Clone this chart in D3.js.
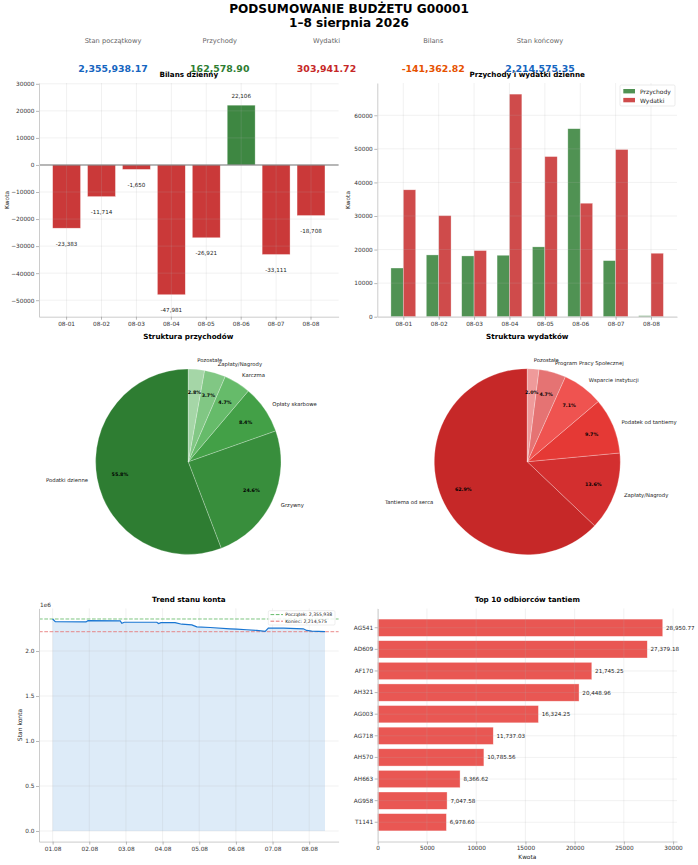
<!DOCTYPE html>
<html>
<head>
<meta charset="utf-8">
<script src="https://cdn.jsdelivr.net/npm/d3@7"></script>
<style>
  body { margin: 0; background: #fff; }
  svg { display: block; font-family: "DejaVu Sans", sans-serif; }
</style>
</head>
<body>
<div id="chart"></div>
<script>
var title_lines    = ["PODSUMOWANIE BUDŻETU G00001", "1–8 sierpnia 2026"];

var kpi_labels     = ["Stan początkowy", "Przychody", "Wydatki", "Bilans", "Stan końcowy"];
var kpi_values     = [2355938.17, 162578.90, 303941.72, -141362.82, 2214575.35];

var days           = ["08-01", "08-02", "08-03", "08-04", "08-05", "08-06", "08-07", "08-08"];
var bilans         = [-23383, -11714, -1650, -47981, -26921, 22106, -33111, -18708];
var przychody      = [14500, 18400, 18100, 18300, 20800, 56000, 16700, 300];
var wydatki        = [37800, 30100, 19700, 66300, 47700, 33800, 49800, 18900];
var bilans_ticks   = [-50000, -40000, -30000, -20000, -10000, 0, 10000, 20000, 30000];
var daily_ticks    = [0, 10000, 20000, 30000, 40000, 50000, 60000];

var income_cats    = ["Podatki dzienne", "Grzywny", "Opłaty skarbowe", "Karczma", "Zapłaty/Nagrody", "Pozostałe"];
var income_vals    = [90719, 39994, 13657, 7641, 6015, 4552];
var expense_cats   = ["Tantiema od serca", "Zapłaty/Nagrody", "Podatek od tantiemy", "Wsparcie instytucji", "Program Pracy Społecznej", "Pozostałe"];
var expense_vals   = [191179, 41336, 29482, 21580, 14285, 6079];

var trend_times    = ["2026-08-01 00:00", "2026-08-01 01:45", "2026-08-01 21:50", "2026-08-01 23:10",
                      "2026-08-02 20:15", "2026-08-02 21:20", "2026-08-02 22:55", "2026-08-03 20:15",
                      "2026-08-03 21:20", "2026-08-03 22:55", "2026-08-04 08:10", "2026-08-04 12:35",
                      "2026-08-04 19:10", "2026-08-04 22:25", "2026-08-05 07:10", "2026-08-05 20:15",
                      "2026-08-06 00:30", "2026-08-06 07:10", "2026-08-06 13:40", "2026-08-06 19:10",
                      "2026-08-06 21:15", "2026-08-07 07:10", "2026-08-07 20:10", "2026-08-07 22:20",
                      "2026-08-08 01:40", "2026-08-08 10:20"];
var trend_values   = [2355938, 2327000, 2323400, 2337900, 2334200, 2308900, 2319700, 2319700,
                      2305200, 2316000, 2316000, 2298000, 2290700, 2269000, 2261700, 2247200,
                      2243600, 2236300, 2229000, 2218200, 2254500, 2254500, 2247200, 2229000,
                      2221800, 2214575];
var trend_ticks    = [0, 500000, 1000000, 1500000, 2000000];
var trend_days     = ["2026-08-01", "2026-08-02", "2026-08-03", "2026-08-04", "2026-08-05", "2026-08-06", "2026-08-07", "2026-08-08"];

var top_ids        = ["AG541", "AD609", "AF170", "AH321", "AG003", "AG718", "AH570", "AH663", "AG958", "T1141"];
var top_vals       = [28950.77, 27379.18, 21745.25, 20448.96, 16324.25, 11737.03, 10785.56, 8366.62, 7047.58, 6978.60];
var top_ticks      = [0, 5000, 10000, 15000, 20000, 25000, 30000];

var kpi_colors     = ["#1565c0", "#2e7d32", "#c62828", "#e65100", "#1565c0"];
var income_colors  = ["#2e7d32", "#388e3c", "#43a047", "#66bb6a", "#81c784", "#a5d6a7"];
var expense_colors = ["#c62828", "#d32f2f", "#e53935", "#ef5350", "#e57373", "#ef9a9a"];

var fmt_int   = function (v) { return d3.format(",.0f")(v).replace("−", "-"); };
var fmt_money = function (v) { return d3.format(",.2f")(v).replace("−", "-"); };

var svg = d3.select("#chart").append("svg")
  .attr("width", 698)
  .attr("height", 865);

function add_text (x, y, txt, size, opts) {
  opts = opts || {};
  return svg.append("text")
    .attr("x", x)
    .attr("y", y)
    .attr("text-anchor", opts.anchor || "middle")
    .attr("dominant-baseline", "central")
    .attr("fill", opts.color || "#000")
    .attr("transform", opts.rotate ? "rotate(-90," + x + "," + y + ")" : null)
    .style("font-size", size + "px")
    .style("font-weight", opts.bold ? "bold" : "normal")
    .text(txt);
}

function style_axis (g) {
  g.attr("font-size", null).attr("font-family", null);
  g.select(".domain").attr("stroke", "#cccccc").attr("stroke-width", 1);
  g.selectAll(".tick line").attr("stroke", "#999").attr("stroke-width", 0.7);
  g.selectAll(".tick text").attr("fill", "#333").style("font-size", "5.8px");
}

function grid_lines (xs, ys, x0, x1, y0, y1) {
  var g = svg.append("g").attr("stroke", "#b0b0b0").attr("stroke-opacity", 0.3).attr("stroke-width", 0.6);
  xs.forEach(function (x) { g.append("line").attr("x1", x).attr("x2", x).attr("y1", y0).attr("y2", y1); });
  ys.forEach(function (y) { g.append("line").attr("x1", x0).attr("x2", x1).attr("y1", y).attr("y2", y); });
}

// Header
add_text(349, 9, title_lines[0], 12.1, {bold: true});
add_text(349, 23.3, title_lines[1], 12.1, {bold: true});

var x_kpi = d3.scalePoint().domain(kpi_labels).range([113, 540]);
kpi_labels.forEach(function (l, i) {
  add_text(x_kpi(l), 41, l, 6.7, {color: "#666"});
  add_text(x_kpi(l), 68, fmt_money(kpi_values[i]), 9.4, {bold: true, color: kpi_colors[i]});
});

// Bilans dzienny
function draw_bilans () {
  var x = d3.scaleBand().domain(days).range([39, 338.6]).paddingInner(0.2).paddingOuter(0.39);
  var y = d3.scaleLinear().domain([-56100, 30300]).range([316.7, 83]);

  svg.append("g").selectAll("rect")
    .data(bilans)
    .join("rect")
    .attr("x", function (d, i) { return x(days[i]); })
    .attr("width", x.bandwidth())
    .attr("y", function (d) { return y(Math.max(0, d)); })
    .attr("height", function (d) { return Math.abs(y(d) - y(0)); })
    .attr("fill", function (d) { return d >= 0 ? "#2e7d32" : "#c62828"; })
    .attr("fill-opacity", 0.92)
    .attr("stroke", "#fff")
    .attr("stroke-opacity", 0.6)
    .attr("stroke-width", 0.6);

  grid_lines(days.map(function (d) { return x(d) + x.bandwidth() / 2; }),
    bilans_ticks.map(y), 39, 338.6, 83, 316.7);

  svg.append("line")
    .attr("x1", 39).attr("x2", 338.6)
    .attr("y1", y(0)).attr("y2", y(0))
    .attr("stroke", "#777").attr("stroke-width", 1.1);

  svg.append("g").selectAll("text")
    .data(bilans)
    .join("text")
    .attr("x", function (d, i) { return x(days[i]) + x.bandwidth() / 2; })
    .attr("y", function (d) { return y(d) + (d >= 0 ? -9.5 : 15.6); })
    .attr("text-anchor", "middle")
    .attr("dominant-baseline", "central")
    .attr("fill", "#222")
    .style("font-size", "5.6px")
    .text(function (d) { return fmt_int(d); });

  svg.append("g").attr("transform", "translate(0,316.7)")
    .call(d3.axisBottom(x).tickSize(3).tickSizeOuter(0).tickPadding(1.8))
    .call(style_axis);
  svg.append("g").attr("transform", "translate(39,0)")
    .call(d3.axisLeft(y).tickValues(bilans_ticks).tickFormat(d3.format("d")).tickSize(3).tickSizeOuter(0).tickPadding(1.5))
    .call(style_axis);

  add_text(188.8, 74, "Bilans dzienny", 7.2, {bold: true});
  add_text(6.7, 200, "Kwota", 5.8, {rotate: true, color: "#222"});
}

// Przychody i wydatki dzienne
function draw_daily () {
  var x = d3.scaleLinear().domain([-0.735, 7.735]).range([377.3, 677]);
  var y = d3.scaleLinear().domain([0, 69615]).range([316.7, 83]);
  var w = x(0.35) - x(0);

  var series = [
    {name: "Przychody", vals: przychody, color: "#2e7d32", off: -0.35},
    {name: "Wydatki", vals: wydatki, color: "#c62828", off: 0}
  ];

  series.forEach(function (s) {
    svg.append("g").selectAll("rect")
      .data(s.vals)
      .join("rect")
      .attr("x", function (d, i) { return x(i + s.off); })
      .attr("width", w)
      .attr("y", function (d) { return y(d); })
      .attr("height", function (d) { return y(0) - y(d); })
      .attr("fill", s.color)
      .attr("fill-opacity", 0.84)
      .attr("stroke", "#fff")
      .attr("stroke-opacity", 0.5)
      .attr("stroke-width", 0.6);
  });

  grid_lines(d3.range(days.length).map(x), daily_ticks.map(y), 377.3, 677, 83, 316.7);

  svg.append("g").attr("transform", "translate(0,316.7)")
    .call(d3.axisBottom(x).tickValues(d3.range(days.length)).tickFormat(function (i) { return days[i]; })
      .tickSize(3).tickSizeOuter(0).tickPadding(1.8))
    .call(style_axis);
  svg.append("g").attr("transform", "translate(377.3,0)")
    .call(d3.axisLeft(y).tickValues(daily_ticks).tickFormat(d3.format("d")).tickSize(3).tickSizeOuter(0).tickPadding(1.5))
    .call(style_axis);

  var lg = svg.append("g");
  lg.append("rect").attr("x", 620).attr("y", 85).attr("width", 55).attr("height", 21).attr("rx", 1.5)
    .attr("fill", "#fff").attr("fill-opacity", 0.8).attr("stroke", "#ddd").attr("stroke-width", 0.6);
  series.forEach(function (s, i) {
    lg.append("rect").attr("x", 623.3).attr("y", 89 + i * 8.9).attr("width", 11.7).attr("height", 4.4)
      .attr("fill", s.color).attr("fill-opacity", 0.84);
    lg.append("text").attr("x", 640).attr("y", 91.2 + i * 8.9).attr("dominant-baseline", "central")
      .attr("fill", "#222").style("font-size", "6px").text(s.name);
  });

  add_text(527.2, 74, "Przychody i wydatki dzienne", 7.2, {bold: true});
  add_text(347.7, 200, "Kwota", 5.8, {rotate: true, color: "#222"});
}

// Pie charts, start at the top and go counterclockwise
function draw_pie (cx, cy, r, cats, vals, colors, title) {
  var total = d3.sum(vals);
  var arcs = d3.pie().sort(null).startAngle(0).endAngle(-2 * Math.PI)(vals);
  var arc = d3.arc().innerRadius(0).outerRadius(r);
  var g = svg.append("g").attr("transform", "translate(" + cx + "," + cy + ")");

  g.selectAll("path")
    .data(arcs)
    .join("path")
    .attr("d", arc)
    .attr("fill", function (d, i) { return colors[i]; })
    .attr("stroke", "#fff")
    .attr("stroke-opacity", 0.5)
    .attr("stroke-width", 0.5);

  arcs.forEach(function (a, i) {
    var m = (a.startAngle + a.endAngle) / 2;
    var sx = Math.sin(m), sy = -Math.cos(m);
    g.append("text")
      .attr("x", 1.1 * r * sx).attr("y", 1.1 * r * sy)
      .attr("text-anchor", sx > 0 ? "start" : "end")
      .attr("dominant-baseline", "central")
      .attr("fill", "#222")
      .style("font-size", "5.3px")
      .text(cats[i]);
    g.append("text")
      .attr("x", 0.75 * r * sx).attr("y", 0.75 * r * sy)
      .attr("text-anchor", "middle")
      .attr("dominant-baseline", "central")
      .attr("fill", "#000")
      .style("font-size", "4.8px")
      .style("font-weight", "bold")
      .text(d3.format(".1f")(vals[i] / total * 100) + "%");
  });

  add_text(cx, 336.7, title, 7.2, {bold: true});
}

// Trend stanu konta
function draw_trend () {
  var parse = d3.timeParse("%Y-%m-%d %H:%M");
  var times = trend_times.map(parse);
  var pad = (times[times.length - 1] - times[0]) * 0.05;
  var x = d3.scaleTime().domain([new Date(+times[0] - pad), new Date(+times[times.length - 1] + pad)]).range([39, 338.6]);
  var y = d3.scaleLinear().domain([-117800, 2473700]).range([841.6, 608.4]);
  var tick_days = trend_days.map(d3.timeParse("%Y-%m-%d"));

  var area = d3.area()
    .x(function (d, i) { return x(times[i]); })
    .y0(y(0))
    .y1(function (d) { return y(d); });
  var line = d3.line()
    .x(function (d, i) { return x(times[i]); })
    .y(function (d) { return y(d); });

  svg.append("path").datum(trend_values).attr("d", area).attr("fill", "#1976d2").attr("fill-opacity", 0.15);
  grid_lines(tick_days.map(x), trend_ticks.map(y), 39, 338.6, 608.4, 841.6);

  var refs = [
    {v: kpi_values[0], color: "#66bb6a", label: "Początek: " + fmt_int(kpi_values[0])},
    {v: kpi_values[4], color: "#e57373", label: "Koniec: " + fmt_int(kpi_values[4])}
  ];
  refs.forEach(function (r) {
    svg.append("line").attr("x1", 39).attr("x2", 338.6).attr("y1", y(r.v)).attr("y2", y(r.v))
      .attr("stroke", r.color).attr("stroke-width", 1).attr("stroke-dasharray", "3.7,1.6").attr("stroke-opacity", 0.85);
  });

  svg.append("path").datum(trend_values).attr("d", line)
    .attr("fill", "none").attr("stroke", "#1976d2").attr("stroke-width", 1.2);

  svg.append("g").attr("transform", "translate(0,841.6)")
    .call(d3.axisBottom(x).tickValues(tick_days).tickFormat(d3.timeFormat("%d.%m")).tickSize(3).tickSizeOuter(0).tickPadding(2.6))
    .call(style_axis);
  svg.append("g").attr("transform", "translate(39,0)")
    .call(d3.axisLeft(y).tickValues(trend_ticks).tickFormat(function (d) { return d3.format(".1f")(d / 1e6); })
      .tickSize(3).tickSizeOuter(0).tickPadding(1.5))
    .call(style_axis);

  var lg = svg.append("g");
  lg.append("rect").attr("x", 268.3).attr("y", 610.7).attr("width", 66.7).attr("height", 14.3).attr("rx", 1.2)
    .attr("fill", "#fff").attr("fill-opacity", 0.85).attr("stroke", "#ddd").attr("stroke-width", 0.5);
  refs.forEach(function (r, i) {
    lg.append("line").attr("x1", 270.5).attr("x2", 283).attr("y1", 614.6 + i * 6.6).attr("y2", 614.6 + i * 6.6)
      .attr("stroke", r.color).attr("stroke-width", 1).attr("stroke-dasharray", "3.7,1.6");
    lg.append("text").attr("x", 285.3).attr("y", 614.6 + i * 6.6).attr("dominant-baseline", "central")
      .attr("fill", "#222").style("font-size", "4.6px").text(r.label);
  });

  add_text(40, 604.5, "1e6", 5.8, {anchor: "start", color: "#333"});
  add_text(188.8, 599.3, "Trend stanu konta", 7.2, {bold: true});
  add_text(19, 725, "Stan konta", 6, {rotate: true, color: "#222"});
}

// Top 10 odbiorców tantiem
function draw_top () {
  var x = d3.scaleLinear().domain([0, 30398]).range([377.7, 677]);
  var y = d3.scaleBand().domain(top_ids).range([608.5, 841.5]).paddingInner(0.2).paddingOuter(0.49);

  svg.append("g").selectAll("rect")
    .data(top_vals)
    .join("rect")
    .attr("x", x(0))
    .attr("y", function (d, i) { return y(top_ids[i]); })
    .attr("width", function (d) { return x(d) - x(0); })
    .attr("height", y.bandwidth())
    .attr("fill", "#e53935")
    .attr("fill-opacity", 0.85)
    .attr("stroke", "#fff")
    .attr("stroke-opacity", 0.6)
    .attr("stroke-width", 0.6);

  grid_lines(top_ticks.map(x), top_ids.map(function (d) { return y(d) + y.bandwidth() / 2; }), 377.7, 677, 608.5, 841.5);

  svg.append("g").selectAll("text")
    .data(top_vals)
    .join("text")
    .attr("x", function (d) { return x(d) + 3.3; })
    .attr("y", function (d, i) { return y(top_ids[i]) + y.bandwidth() / 2; })
    .attr("dominant-baseline", "central")
    .attr("fill", "#222")
    .style("font-size", "5.6px")
    .text(function (d) { return fmt_money(d); });

  svg.append("g").attr("transform", "translate(0,841.5)")
    .call(d3.axisBottom(x).tickValues(top_ticks).tickFormat(d3.format("d")).tickSize(3).tickSizeOuter(0).tickPadding(1.8))
    .call(style_axis);
  svg.append("g").attr("transform", "translate(377.7,0)")
    .call(d3.axisLeft(y).tickSize(3).tickSizeOuter(0).tickPadding(1.5))
    .call(style_axis);

  add_text(527.3, 599.3, "Top 10 odbiorców tantiem", 7.2, {bold: true});
  add_text(527.3, 856.7, "Kwota", 5.8, {color: "#222"});
}

draw_bilans();
draw_daily();
draw_pie(188.3, 461.7, 92.7, income_cats, income_vals, income_colors, "Struktura przychodów");
draw_pie(527.3, 461.7, 93, expense_cats, expense_vals, expense_colors, "Struktura wydatków");
draw_trend();
draw_top();
</script>
</body>
</html>
